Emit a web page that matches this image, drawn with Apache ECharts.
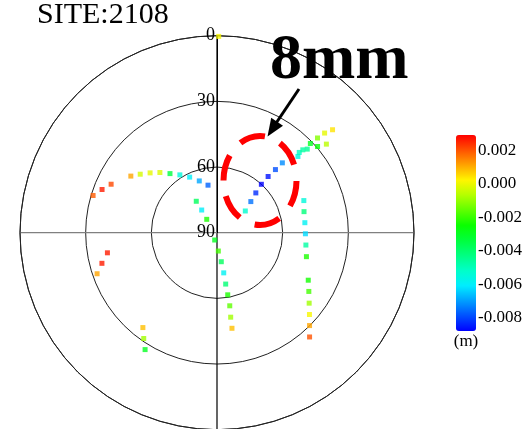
<!DOCTYPE html>
<html>
<head>
<meta charset="utf-8">
<script src="https://cdn.jsdelivr.net/npm/echarts@6/dist/echarts.min.js"></script>
<style>
  html, body { margin: 0; padding: 0; background: #fff; }
  #chart { width: 525px; height: 429px; }
</style>
</head>
<body>
<div id="chart"></div>
<script>
// Sky plot of station 2108: residual (m) per satellite observation.
// Azimuth is clockwise from north, elevation 90 at the centre, 0 on the rim.
const azimuthDeg = [
  286.7, 290.6, 294.6, 303.3, 307.3, 311.8, 316.5, 321.5, 327.3, 333.8, 341.1, 349.3,
  326.6, 326.0, 322.5, 197.5, 175.9, 171.6, 170.5, 170.4, 170.2, 170.1, 170.8, 171.1,
  52.5, 47.4, 44.3, 42.5, 42.3, 42.8, 43.1, 46.7, 45.7, 46.0, 47.2, 46.3, 49.4, 46.7, 51.0, 47.2, 48.3,
  69.7, 76.4, 83.5, 90.7, 97.9, 105.0, 117.5, 122.6, 127.4, 131.5, 135.1, 138.4,
  259.6, 255.1, 251.1, 218.0, 214.7, 211.6,
  0.5
];
const elevationDeg = [
  30.9, 33.9, 36.8, 42.9, 45.9, 49.0, 52.1, 55.5, 58.6, 61.7, 65.0, 67.9,
  72.8, 77.5, 82.3, 86.5, 81.6, 76.6, 71.4, 66.2, 61.2, 56.1, 50.9, 45.8,
  73.7, 69.0, 64.6, 60.0, 55.3, 50.7, 46.3, 39.2, 37.5, 35.5, 33.8, 31.0, 29.5, 26.9, 25.7, 23.0, 19.3,
  47.7, 49.1, 49.6, 49.6, 49.0, 47.7, 43.0, 40.2, 37.0, 33.6, 30.1, 26.3,
  39.1, 35.6, 32.1, 35.0, 31.2, 27.3,
  0.3
];
const residualM = [
  0.0019, 0.0026, 0.0021, 0.0011, -0.0003, -0.0001, -0.0002, -0.0034, -0.0055, -0.0060, -0.0069, -0.0077,
  -0.0038, -0.0060, -0.0023, -0.0030, -0.0019, -0.0038, -0.0059, -0.0041, -0.0023, -0.0016, -0.0009, 0.0008,
  -0.0053, -0.0075, -0.0083, -0.0088, -0.0086, -0.0079, -0.0072, -0.0056, -0.0051, -0.0047, -0.0045, -0.0030, -0.0026, -0.0012, -0.0006, -0.0001, 0.0004,
  -0.0055, -0.0042, -0.0059, -0.0063, -0.0047, -0.0023, -0.0024, -0.0019, -0.0009, 0.0001, 0.0011, 0.0020,
  0.0026, 0.0026, 0.0011, 0.0008, -0.0009, -0.0030,
  0.0001
];
const colorbarTicks = [0.002, 0.000, -0.002, -0.004, -0.006, -0.008];
const residualMin = -0.0088;
const residualMax = 0.0029;
const titleText = 'SITE:2108';
const noteText = '8mm';
const unitText = '(m)';

// jet-like palette, evenly spaced from min to max
const jet = ['#0000ff', '#004fff', '#009eff', '#00edff', '#00ffc9', '#00ff83', '#00ff3e',
             '#09ff00', '#5eff00', '#b3ff00', '#fff600', '#ffa400', '#ff5200', '#ff0000'];

const points = azimuthDeg.map((az, i) => [elevationDeg[i], az, residualM[i]]);
const serif = '"Liberation Serif", "Times New Roman", serif';

const chart = echarts.init(document.getElementById('chart'), null, { renderer: 'canvas' });
chart.setOption({
  animation: false,
  backgroundColor: '#fff',
  title: {
    text: titleText,
    left: 37, top: 0,
    padding: 0,
    textStyle: { fontFamily: serif, fontSize: 30, fontWeight: 'normal', color: '#000' }
  },
  polar: { center: [217, 232.7], radius: 197 },
  angleAxis: {
    type: 'value', min: 0, max: 360, interval: 90,
    startAngle: 90, clockwise: true,
    axisLine: { show: true, lineStyle: { color: '#222', width: 1 } },
    axisTick: { show: false },
    axisLabel: { show: false },
    splitLine: { show: true, lineStyle: { color: ['#000', '#808080'], width: 1.2 } }
  },
  radiusAxis: {
    type: 'value', min: 0, max: 90, interval: 30, inverse: true,
    axisLine: { show: true, lineStyle: { color: '#000', width: 1 } },
    axisTick: { show: false },
    axisLabel: { fontFamily: serif, fontSize: 18, color: '#000', margin: 2 },
    splitLine: { show: true, lineStyle: { color: '#222', width: 1 } }
  },
  grid: { left: 456, top: 135, width: 20, height: 196, containLabel: false },
  xAxis: { type: 'value', show: false, min: 0, max: 1 },
  yAxis: {
    type: 'value', position: 'right',
    min: residualMin, max: residualMax,
    axisLine: { show: false },
    splitLine: { show: false },
    axisTick: { show: true, length: 4, customValues: colorbarTicks, lineStyle: { color: '#000' } },
    axisLabel: {
      customValues: colorbarTicks, margin: 4,
      fontFamily: serif, fontSize: 17, color: '#000',
      formatter: v => v.toFixed(3)
    }
  },
  visualMap: {
    type: 'continuous',
    min: residualMin, max: residualMax,
    dimension: 2, seriesIndex: 0,
    left: 456, top: 135, padding: 0,
    itemWidth: 20, itemHeight: 196,
    calculable: false, text: null, showLabel: false,
    inRange: { color: jet }
  },
  graphic: [
    {
      type: 'text', x: 270, y: 61, z: 100,
      style: { text: noteText, fontFamily: serif, fontWeight: 'bold', fontSize: 64,
               fill: '#000', align: 'left', verticalAlign: 'middle' }
    },
    {
      type: 'line', z: 100,
      shape: { x1: 299, y1: 89, x2: 276.5, y2: 122.5 },
      style: { stroke: '#000', lineWidth: 3 }
    },
    {
      type: 'polygon', z: 100,
      shape: { points: [[267.5, 136.5], [283, 125.8], [271.2, 117.8]] },
      style: { fill: '#000' }
    },
    {
      type: 'ellipse', z: 100,
      shape: { cx: 260, cy: 180.5, rx: 36.5, ry: 44.5 },
      style: { fill: null, stroke: '#ff0000', lineWidth: 6, lineDash: [26, 16.6] }
    },
    {
      type: 'text', x: 466, y: 342, z: 100,
      style: { text: unitText, fontFamily: serif, fontSize: 17, fill: '#000',
               align: 'center', verticalAlign: 'middle' }
    }
  ],
  series: [{
    type: 'scatter',
    coordinateSystem: 'polar',
    symbol: 'rect',
    symbolSize: 5,
    data: points,
    z: 5
  }]
});
</script>
</body>
</html>
